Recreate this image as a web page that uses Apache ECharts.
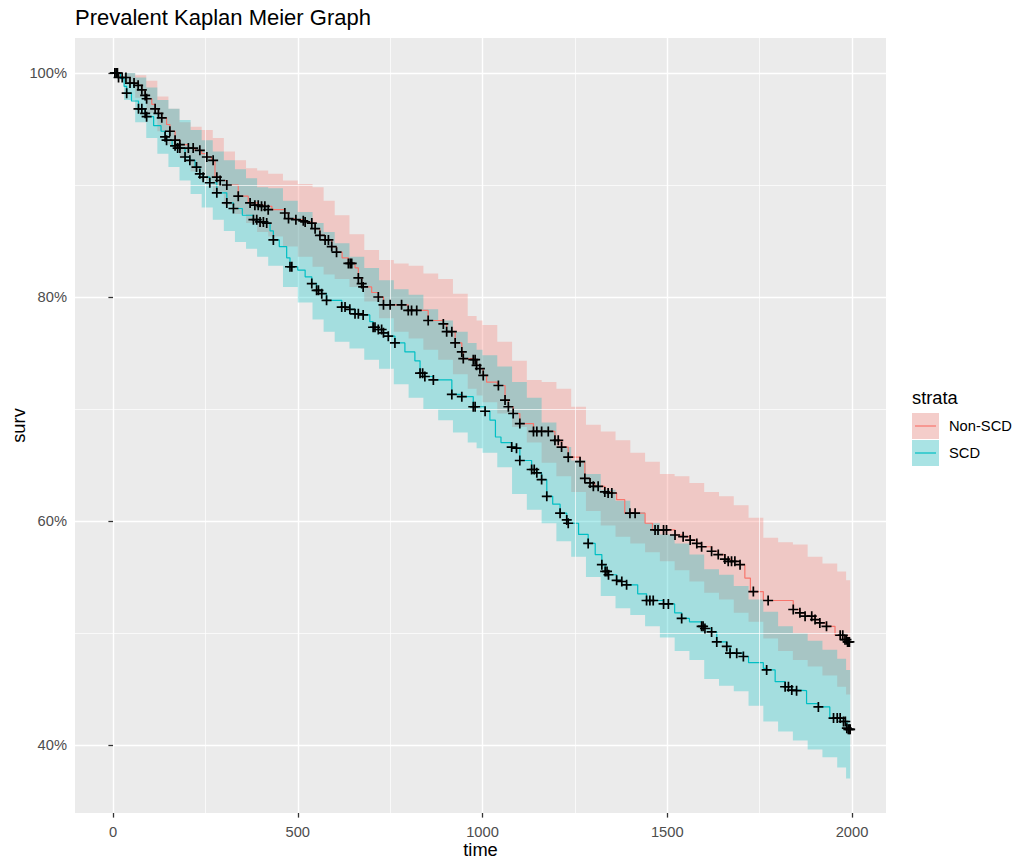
<!DOCTYPE html>
<html><head><meta charset="utf-8">
<script src="https://cdn.jsdelivr.net/npm/echarts@6/dist/echarts.min.js"></script>
<style>html,body{margin:0;padding:0;background:#fff}#c{width:1017px;height:861px}</style>
</head><body><div id="c"></div>
<script>
// ---------- tick labels / breaks ----------
const xBreaks = [0, 500, 1000, 1500, 2000];
const xMinorBreaks = [250, 750, 1250, 1750];
const yBreaks = [40, 60, 80, 100];
const yMinorBreaks = [50, 70, 90];
const strata = ['Non-SCD', 'SCD'];

// ---------- Non-SCD survival curve (step points) ----------
const nonscdTime = [0,20,46,68,78,87,91,105,114,123,132,145,154,168,181,204,222,240,254,267,276,290,308,339,366,393,411,430,465,475,495,515,520,538,547,560,574,592,605,620,637,655,664,673,677,700,718,732,799,853,894,903,926,944,948,975,984,993,1002,1011,1040,1061,1070,1083,1101,1138,1196,1214,1232,1264,1277,1291,1304,1331,1350,1363,1385,1440,1460,1521,1543,1562,1580,1593,1620,1638,1656,1674,1697,1710,1725,1760,1841,1859,1873,1900,1913,1931,1954,1981,1993];
const nonscdSurv = [100,99.6,99.1,98.9,98.5,98.0,97.7,97.2,96.8,96.4,96.0,95.4,94.8,94.0,93.6,93.3,93.1,92.8,92.5,92.2,90.7,90.4,90.0,89.0,88.4,88.2,88.1,87.8,87.5,87.0,86.9,86.8,86.7,86.6,86.1,85.5,85.1,84.5,84.0,83.5,83.0,82.6,81.7,81.2,80.9,80.4,80.0,79.3,78.8,77.9,77.6,76.9,75.9,75.1,74.5,74.4,73.9,73.6,73.0,72.4,72.1,70.8,70.2,69.6,68.7,68.0,67.2,66.6,65.7,65.3,63.8,63.4,63.1,62.6,62.5,61.9,60.7,59.8,59.2,58.75,58.6,58.3,58.0,57.7,57.3,57.0,56.6,56.4,56.1,54.9,53.7,52.9,52.1,51.8,51.5,51.2,50.9,50.6,49.8,49.4,49.2];

// ---------- SCD survival curve (step points) ----------
const scdTime = [0,20,30,37,50,69,87,91,110,130,141,145,160,175,195,208,222,235,244,262,281,308,326,350,380,398,416,425,434,450,470,479,500,520,538,551,565,578,619,641,655,677,695,704,718,732,745,763,790,817,831,844,867,917,944,975,1007,1020,1035,1050,1079,1092,1101,1133,1147,1160,1174,1190,1210,1228,1232,1260,1286,1305,1323,1332,1341,1363,1377,1390,1420,1444,1490,1520,1539,1560,1593,1602,1620,1634,1661,1670,1706,1720,1760,1769,1792,1819,1837,1850,1877,1909,1940,1977,1986,1995];
const scdSurv = [100,99.5,98.8,98.2,97.5,96.8,96.4,96.1,95.3,94.8,94.3,94.0,93.5,93.3,92.5,92.2,91.6,91.0,90.7,90.2,89.3,88.4,87.9,87.3,86.9,86.7,86.6,85.9,85.1,84.5,83.5,82.7,82.4,81.8,81.2,80.6,80.3,79.7,79.1,78.9,78.5,78.4,77.8,77.3,77.1,76.8,76.5,75.9,75.1,74.3,73.2,72.9,72.6,71.3,71.1,70.2,69.8,69.0,67.5,67.0,66.6,66.5,65.4,64.6,64.3,63.7,62.2,61.5,60.7,60.1,59.8,58.8,58.0,57.0,56.1,55.5,55.2,54.7,54.6,54.3,53.5,52.9,52.6,51.8,51.3,51.0,50.6,50.4,50.1,49.2,48.8,48.2,47.9,47.35,46.85,46.7,45.65,45.2,44.9,44.85,43.7,43.4,42.4,42.1,41.5,41.4];

// ---------- confidence bands (last entry = end of band) ----------
const bandTime = [0,30,60,90,120,150,180,210,240,270,300,330,360,390,420,460,500,540,570,600,640,680,720,760,800,840,880,920,960,984,1000,1040,1080,1120,1160,1200,1240,1280,1320,1360,1400,1440,1480,1520,1560,1600,1640,1680,1720,1760,1800,1840,1880,1920,1960,1984,1995];
const nonscdUpper = [100,100,99.8,99.3,97.9,96.8,95.6,95.2,94.9,94.2,93.0,92.2,91.5,91.3,91.0,90.4,90.1,89.8,88.6,87.3,85.6,84.2,83.3,83.0,82.8,82.1,81.6,80.3,78.3,77.9,77.5,76.0,74.3,72.6,72.4,71.8,70.2,68.6,68.0,67.2,66.1,65.3,64.2,64.0,63.4,62.6,62.2,61.4,60.3,58.5,58.1,57.9,56.8,56.2,55.5,54.7,54.7];
const nonscdLower = [100,99.0,97.8,96.4,94.8,93.6,92.4,91.2,90.4,89.4,88.2,87.4,86.6,85.8,85.4,84.5,83.6,82.7,82.0,81.6,80.9,79.6,78.1,76.9,76.3,75.3,74.4,73.1,71.8,71.2,70.6,69.6,68.4,67.0,65.2,64.0,62.6,60.9,59.6,58.6,58.0,57.2,56.4,55.6,54.6,53.6,53.0,51.8,51.0,49.5,48.4,47.6,47.0,46.2,45.2,44.5,44.5];
const scdUpper = [100,100,99.6,98.7,97.6,96.8,95.8,94.9,94.0,93.0,92.2,91.4,90.6,89.8,89.7,88.6,87.6,86.6,85.8,84.8,83.6,82.6,81.5,80.7,80.2,78.9,77.9,76.9,75.9,75.3,74.8,73.8,72.4,71.0,68.8,66.6,65.4,64.2,62.8,61.8,60.8,59.8,58.8,58.0,57.0,55.7,55.2,54.2,53.0,51.9,50.6,50.0,49.3,48.5,47.7,46.7,46.7];
const scdLower = [100,97.6,95.6,94.2,92.8,91.6,90.4,89.2,88.0,86.9,85.9,84.9,84.3,83.6,82.8,80.9,79.5,78.0,76.9,76.0,75.4,74.4,73.6,72.2,71.0,70.0,69.0,67.9,67.0,66.5,66.1,64.8,62.4,61.0,59.8,58.2,56.8,55.0,53.3,52.2,51.6,50.6,49.6,48.4,47.6,45.9,45.3,44.8,43.5,42.1,41.2,40.4,39.6,38.9,38.0,37.0,37.0];

// ---------- censor marks ----------
const nonscdCensorTime = [5,10,15,25,35,46,57,68,78,87,91,114,123,132,154,168,181,204,217,235,254,271,281,290,308,339,371,384,393,402,411,420,465,475,495,515,520,538,547,560,574,583,592,605,637,642,646,664,673,677,718,732,750,781,799,808,822,853,894,903,917,926,944,948,975,980,984,993,1002,1043,1061,1070,1083,1101,1138,1147,1160,1178,1196,1205,1214,1232,1264,1277,1291,1300,1313,1331,1340,1350,1399,1413,1467,1475,1490,1498,1521,1543,1562,1580,1593,1620,1638,1656,1665,1674,1683,1697,1733,1773,1841,1859,1873,1891,1900,1913,1931,1968,1975,1981,1985,1988,1990,1993];
const nonscdCensorSurv = [100,100,99.6,99.6,99.6,99.1,99.1,98.9,98.5,98.0,97.7,96.8,96.4,96.0,94.8,94.0,93.6,93.3,93.3,93.1,92.5,92.2,90.7,90.4,90.0,89.0,88.4,88.2,88.2,88.1,88.1,87.8,87.5,87.0,86.9,86.8,86.7,86.6,86.1,85.5,85.1,85.1,84.5,84.0,83.0,83.0,83.0,81.7,81.2,80.9,80.0,79.3,79.3,79.3,78.8,78.8,78.8,77.9,77.6,76.9,76.9,75.9,75.1,74.5,74.4,74.4,73.9,73.6,73.0,72.1,70.8,70.2,69.6,68.7,68.0,68.0,68.0,68.0,67.2,67.2,66.6,65.7,65.3,63.8,63.4,63.1,63.1,62.6,62.5,62.5,60.7,60.7,59.2,59.2,59.2,59.2,58.75,58.6,58.3,58.0,57.7,57.3,57.0,56.6,56.4,56.4,56.4,56.1,53.7,52.9,52.1,51.8,51.5,51.5,51.2,50.9,50.6,49.8,49.8,49.4,49.4,49.2,49.2,49.2];
const scdCensorTime = [5,12,37,69,78,87,91,141,145,168,175,181,195,208,226,235,244,262,281,308,326,380,389,398,407,416,434,479,484,538,551,556,565,578,619,628,641,655,664,677,704,709,718,727,732,745,763,831,838,844,867,917,944,975,980,1007,1079,1092,1101,1133,1140,1147,1160,1174,1210,1228,1232,1286,1323,1332,1337,1341,1363,1377,1390,1444,1453,1462,1490,1503,1539,1593,1597,1602,1620,1634,1661,1670,1688,1706,1769,1819,1828,1837,1850,1909,1950,1960,1968,1977,1982,1986,1990,1993,1995];
const scdCensorSurv = [100,100,98.2,96.8,96.8,96.4,96.1,94.3,94.0,93.5,93.3,93.3,92.5,92.2,91.6,91.0,90.7,90.2,89.3,88.4,87.9,86.9,86.9,86.7,86.7,86.6,85.1,82.7,82.7,81.2,80.6,80.6,80.3,79.7,79.1,79.1,78.9,78.5,78.5,78.4,77.3,77.3,77.1,77.1,76.8,76.5,75.9,73.2,73.2,72.9,72.6,71.3,71.1,70.2,70.2,69.8,66.6,66.5,65.4,64.6,64.6,64.3,63.7,62.2,60.7,60.1,59.8,58.0,56.1,55.5,55.5,55.2,54.7,54.6,54.3,52.9,52.9,52.9,52.6,52.6,51.3,50.6,50.6,50.4,50.1,49.2,48.8,48.2,48.2,47.9,46.7,45.2,45.2,44.9,44.85,43.4,42.4,42.4,42.4,42.1,42.1,41.5,41.4,41.4,41.4];

// ---------- styles ----------
const FONT = '"Liberation Sans", Arial, sans-serif';
const RED = '#F8766D', TEAL = '#00BFC4';
const RED_FILL = 'rgba(248,118,109,0.3)', TEAL_FILL = 'rgba(0,191,196,0.3)';
const PLUS = 'path://M-0.17,-1 L0.17,-1 L0.17,-0.17 L1,-0.17 L1,0.17 L0.17,0.17 L0.17,1 L-0.17,1 L-0.17,0.17 L-1,0.17 L-1,-0.17 L-0.17,-0.17 Z';

function zip(a, b) { return a.map((v, i) => [v, b[i]]); }

function bandSeries(name, times, lo, hi, fill, z) {
  return {
    name: name, type: 'custom', coordinateSystem: 'cartesian2d', silent: true, clip: true, z: z,
    data: times.map((t, i) => [t, lo[i], hi[i]]),
    encode: { x: 0, y: [1, 2] },
    renderItem: function (params, api) {
      if (params.dataIndex !== 0) return null;
      const n = times.length, pts = [];
      for (let i = 0; i < n - 1; i++) {
        pts.push(api.coord([times[i], hi[i]]));
        pts.push(api.coord([times[i + 1], hi[i]]));
      }
      for (let i = n - 2; i >= 0; i--) {
        pts.push(api.coord([times[i + 1], lo[i]]));
        pts.push(api.coord([times[i], lo[i]]));
      }
      return { type: 'polygon', shape: { points: pts }, style: { fill: fill, stroke: null } };
    }
  };
}

const chart = echarts.init(document.getElementById('c'), null, { renderer: 'svg' });
chart.setOption({
  animation: false,
  backgroundColor: '#FFFFFF',
  title: {
    text: 'Prevalent Kaplan Meier Graph', left: 75, top: 6, padding: 0,
    textStyle: { fontFamily: FONT, fontSize: 22, fontWeight: 'normal', color: '#000' }
  },
  grid: {
    left: 75, top: 38, width: 811, height: 775, show: true,
    backgroundColor: '#EBEBEB', borderWidth: 0, containLabel: false, outerBoundsMode: 'none'
  },
  xAxis: {
    type: 'value', min: -102.84, max: 2092.0,
    name: 'time', nameLocation: 'middle', nameGap: 27, nameMoveOverlap: false,
    nameTextStyle: { fontFamily: FONT, fontSize: 18.3, color: '#000', lineHeight: 18 },
    axisLine: { show: false },
    axisTick: { show: true, customValues: xBreaks, length: 4.6, lineStyle: { color: '#333333', width: 1.3 } },
    axisLabel: { customValues: xBreaks, formatter: v => String(v), color: '#4D4D4D', fontFamily: FONT, fontSize: 14.7, margin: 11 },
    splitLine: { show: true, lineStyle: { color: '#FFFFFF', width: 1.4 } }
  },
  yAxis: {
    type: 'value', min: 33.929, max: 103.125,
    name: 'surv', nameLocation: 'middle', nameGap: 48, nameRotate: 90, nameMoveOverlap: false,
    nameTextStyle: { fontFamily: FONT, fontSize: 18.3, color: '#000', lineHeight: 18 },
    axisLine: { show: false },
    axisTick: { show: true, customValues: yBreaks, length: 4.6, lineStyle: { color: '#333333', width: 1.3 } },
    axisLabel: { customValues: yBreaks, formatter: v => v + '%', color: '#4D4D4D', fontFamily: FONT, fontSize: 14.7, margin: 8 },
    splitLine: { show: true, lineStyle: { color: '#FFFFFF', width: 1.4 } }
  },
  series: [
    {
      name: 'minor-grid', type: 'line', data: [], z: 1, silent: true,
      markLine: {
        silent: true, symbol: ['none', 'none'], label: { show: false },
        lineStyle: { color: '#FFFFFF', width: 0.7, type: 'solid' },
        data: xMinorBreaks.map(v => ({ xAxis: v })).concat(yMinorBreaks.map(v => ({ yAxis: v })))
      }
    },
    bandSeries('Non-SCD band', bandTime, nonscdLower, nonscdUpper, RED_FILL, 2),
    bandSeries('SCD band', bandTime, scdLower, scdUpper, TEAL_FILL, 3),
    {
      name: strata[0], type: 'line', step: 'end', data: zip(nonscdTime, nonscdSurv), z: 4,
      showSymbol: false, symbol: 'none', lineStyle: { color: RED, width: 1.2 }, silent: true
    },
    {
      name: strata[1], type: 'line', step: 'end', data: zip(scdTime, scdSurv), z: 4,
      showSymbol: false, symbol: 'none', lineStyle: { color: TEAL, width: 1.2 }, silent: true
    },
    {
      name: 'Non-SCD censor', type: 'scatter', data: zip(nonscdCensorTime, nonscdCensorSurv), z: 5,
      symbol: PLUS, symbolSize: 10, symbolKeepAspect: true, itemStyle: { color: '#000', opacity: 1 }, silent: true
    },
    {
      name: 'SCD censor', type: 'scatter', data: zip(scdCensorTime, scdCensorSurv), z: 5,
      symbol: PLUS, symbolSize: 10, symbolKeepAspect: true, itemStyle: { color: '#000', opacity: 1 }, silent: true
    }
  ],
  graphic: [
    { type: 'text', left: 912, top: 388, style: { text: 'strata', font: '18.3px ' + FONT, fill: '#000' } },
    { type: 'rect', left: 912, top: 413, shape: { width: 27, height: 26 }, style: { fill: '#F2F2F2' } },
    { type: 'rect', left: 912, top: 413, shape: { width: 27, height: 26 }, style: { fill: RED_FILL } },
    { type: 'line', shape: { x1: 915, y1: 426, x2: 936, y2: 426 }, style: { stroke: RED, lineWidth: 1.2 } },
    { type: 'rect', left: 912, top: 440, shape: { width: 27, height: 26 }, style: { fill: '#F2F2F2' } },
    { type: 'rect', left: 912, top: 440, shape: { width: 27, height: 26 }, style: { fill: TEAL_FILL } },
    { type: 'line', shape: { x1: 915, y1: 453, x2: 936, y2: 453 }, style: { stroke: TEAL, lineWidth: 1.2 } },
    { type: 'text', left: 949, top: 418, style: { text: strata[0], font: '14.7px ' + FONT, fill: '#000' } },
    { type: 'text', left: 949, top: 445, style: { text: strata[1], font: '14.7px ' + FONT, fill: '#000' } }
  ]
});
</script></body></html>
